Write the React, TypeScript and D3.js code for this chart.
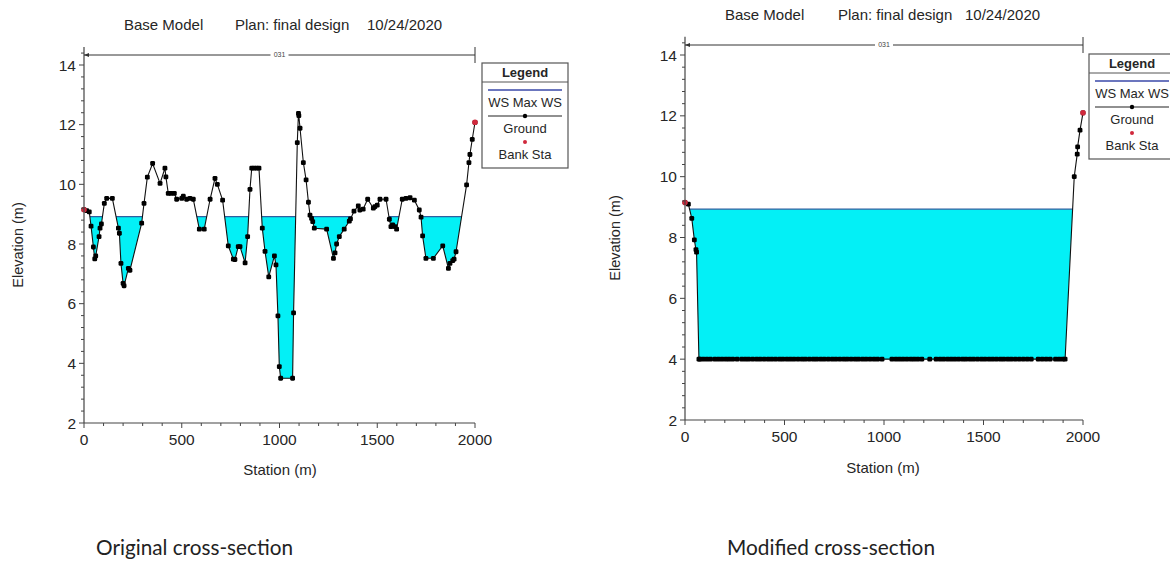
import React from "react";
import * as d3 from "d3";

// ---------- data ----------
const titleParts = ["Base Model", "Plan: final design", "10/24/2020"];
const reachLabel = "031";
const captions = ["Original cross-section", "Modified cross-section"];
const legendTitle = "Legend";
const legendItems = ["WS Max WS", "Ground", "Bank Sta"];
const yTicks = [2, 4, 6, 8, 10, 12, 14];
const xTicks = [0, 500, 1000, 1500, 2000];
const yLabel = "Elevation (m)";
const xLabel = "Station (m)";

const wsOriginal = 8.92;
const wsModified = 8.93;

const originalStation = [
  0, 14, 27, 36, 48, 55, 60, 77, 82, 89, 104, 116, 145, 176, 181, 189, 200, 205, 227, 235,
  295, 307, 324, 351, 389, 414, 419, 431, 445, 462, 474, 500, 508, 525, 542, 559, 590, 615,
  645, 670, 682, 709, 738, 764, 772, 789, 798, 824, 837, 849, 858, 870, 883, 895, 912, 926,
  945, 974, 982, 992, 999, 1006, 1067, 1072, 1091, 1097, 1099, 1105, 1122, 1136, 1148, 1156,
  1164, 1170, 1178, 1241, 1276, 1284, 1292, 1306, 1331, 1357, 1363, 1381, 1403, 1411, 1428,
  1451, 1480, 1488, 1500, 1514, 1545, 1562, 1570, 1579, 1591, 1599, 1628, 1647, 1668, 1690,
  1715, 1724, 1732, 1749, 1787, 1835, 1864, 1872, 1886, 1893, 1903, 1957, 1969, 1974, 1986, 2000,
];
const originalElev = [
  9.15, 9.12, 9.08, 8.6, 7.9, 7.5, 7.6, 8.25, 8.53, 8.67, 9.36, 9.53, 9.53, 8.53, 8.36, 7.35, 6.68, 6.6, 7.18, 7.12,
  8.7, 9.36, 10.24, 10.7, 10.03, 10.54, 10.25, 9.7, 9.7, 9.7, 9.5, 9.53, 9.6, 9.5, 9.53, 9.5, 8.5, 8.5,
  9.5, 10.2, 10.0, 9.47, 7.94, 7.49, 7.48, 7.91, 7.91, 7.37, 8.25, 9.83, 10.54, 10.54, 10.54, 10.54, 8.53, 7.75,
  6.9, 7.6, 7.3, 5.59, 3.89, 3.5, 3.5, 5.69, 11.4, 12.38, 12.3, 11.88, 10.73, 10.15, 9.4, 8.97,
  8.86, 8.75, 8.53, 8.5, 7.52, 7.7, 8.0, 8.25, 8.5, 8.77, 8.84, 9.1, 9.28, 9.14, 9.17,
  9.5, 9.2, 9.25, 9.3, 9.5, 9.5, 8.83, 8.58, 8.64, 8.58, 8.5, 9.5, 9.53, 9.55, 9.47,
  9.14, 8.9, 8.27, 7.52, 7.52, 7.94, 7.18, 7.35, 7.44, 7.49, 7.74, 9.98, 10.73, 11.0, 11.51, 12.08,
];

const modifiedStation = [
  0, 17, 34, 47, 55, 58, 70,
  75, 92, 110, 128, 150, 168, 186, 205, 222, 240, 262, 285, 303, 320, 340, 360, 378, 398,
  418, 436, 455, 475, 492, 512, 530, 548, 568, 588, 605, 625, 645, 662, 682, 700, 720, 740,
  758, 778, 798, 815, 835, 855, 872, 892, 910, 930, 950, 968, 990, 1040, 1060, 1078, 1096,
  1115, 1135, 1152, 1170, 1190, 1230, 1262, 1282, 1300, 1320, 1338, 1356, 1375, 1395, 1412,
  1432, 1450, 1470, 1490, 1508, 1528, 1546, 1565, 1585, 1602, 1622, 1640, 1660, 1680, 1700,
  1720, 1740, 1775, 1795, 1815, 1835, 1862, 1880, 1898, 1910,
  1956, 1971, 1973, 1985, 2000,
];
const modifiedElev = [
  9.15, 9.1, 8.63, 7.92, 7.6, 7.52, 4.0,
  4, 4, 4, 4, 4, 4, 4, 4, 4, 4, 4, 4, 4, 4, 4, 4, 4, 4,
  4, 4, 4, 4, 4, 4, 4, 4, 4, 4, 4, 4, 4, 4, 4, 4, 4, 4,
  4, 4, 4, 4, 4, 4, 4, 4, 4, 4, 4, 4, 4, 4, 4, 4, 4,
  4, 4, 4, 4, 4, 4, 4, 4, 4, 4, 4, 4, 4, 4, 4,
  4, 4, 4, 4, 4, 4, 4, 4, 4, 4, 4, 4, 4, 4, 4,
  4, 4, 4, 4, 4, 4, 4, 4, 4, 4.0,
  10.0, 10.74, 10.98, 11.53, 12.1,
];

// ---------- styles ----------
const FONT = "'Liberation Sans', Arial, sans-serif";
const TEXT = "#262626";
const AXIS = "#444";
const WATER = "#03F0F6";
const WSLINE = "#2f5f9f";
const BANK = "#d0283c";

type PanelCfg = {
  id: string;
  stations: number[];
  elevs: number[];
  ws: number;
  x0: number; x1: number; yBot: number; y14: number;
  titleY: number; titleXs: number[];
  legendX: number; legendY: number;
  bracketY: number;
  yLabelX: number; yLabelY: number;
  xLabelX: number; xLabelY: number;
  caption: string; captionX: number; captionY: number; captionW: number;
};

function Panel({ c }: { c: PanelCfg }) {
  const x = d3.scaleLinear().domain([0, 2000]).range([c.x0, c.x1]);
  const y = d3.scaleLinear().domain([2, 14]).range([c.yBot, c.y14]);
  const yTop = y(14.6);
  const pts: [number, number][] = c.stations.map((s, i) => [s, c.elevs[i]]);
  const groundLine = d3.line<[number, number]>().x(d => x(d[0])).y(d => y(d[1]))(pts) || "";
  const aboveGround = d3.area<[number, number]>().x(d => x(d[0])).y0(d => y(d[1])).y1(yTop)(pts) || "";
  const minorY = d3.range(0, 32).map(i => 2 + i * 0.4).filter(v => Math.abs(v - Math.round(v / 2) * 2) > 0.01);
  const minorX = d3.range(0, 21).map(i => i * 100).filter(v => v % 500 !== 0);
  const clipId = `clip-${c.id}`;
  const lx = c.legendX, ly = c.legendY, lw = 86, lc = lx + lw / 2;
  const n = pts.length;
  const mid = (x(0) + x(2000)) / 2;
  const ms = 4.8;
  return (
    <g>
      <defs>
        <clipPath id={clipId}><path d={aboveGround} /></clipPath>
      </defs>
      {titleParts.map((t, i) => (
        <text key={i} x={c.titleXs[i]} y={c.titleY} fontSize={15} fill={TEXT} fontFamily={FONT}>{t}</text>
      ))}
      <g clipPath={`url(#${clipId})`}>
        <rect x={x(0)} y={y(c.ws)} width={x(2000) - x(0)} height={c.yBot - y(c.ws)} fill={WATER} />
        <line x1={x(0)} x2={x(2000)} y1={y(c.ws)} y2={y(c.ws)} stroke={WSLINE} strokeWidth={1.2} />
      </g>
      <path d={groundLine} fill="none" stroke="#111" strokeWidth={1.1} />
      {pts.map((p, i) => (
        <rect key={i} x={x(p[0]) - ms / 2} y={y(p[1]) - ms / 2} width={ms} height={ms} rx={1.3} fill="#000" />
      ))}
      <circle cx={x(pts[0][0])} cy={y(pts[0][1])} r={2.8} fill={BANK} />
      <circle cx={x(pts[n - 1][0])} cy={y(pts[n - 1][1])} r={2.8} fill={BANK} />
      <line x1={c.x0} x2={c.x0} y1={yTop} y2={c.yBot} stroke={AXIS} strokeWidth={1.2} />
      <line x1={c.x0} x2={c.x1} y1={c.yBot} y2={c.yBot} stroke={AXIS} strokeWidth={1.2} />
      {yTicks.map(t => (
        <g key={t}>
          <line x1={c.x0 - 5} x2={c.x0} y1={y(t)} y2={y(t)} stroke={AXIS} />
          <text x={c.x0 - 8} y={y(t)} dy="0.36em" textAnchor="end" fontSize={15.5} fill={TEXT} fontFamily={FONT}>{t}</text>
        </g>
      ))}
      {minorY.map(t => (
        <line key={t} x1={c.x0 - 3} x2={c.x0} y1={y(t)} y2={y(t)} stroke={AXIS} />
      ))}
      {xTicks.map(t => (
        <g key={t}>
          <line x1={x(t)} x2={x(t)} y1={c.yBot} y2={c.yBot + 5} stroke={AXIS} />
          <text x={x(t)} y={c.yBot + 22} textAnchor="middle" fontSize={15.5} fill={TEXT} fontFamily={FONT}>{t}</text>
        </g>
      ))}
      {minorX.map(t => (
        <line key={t} x1={x(t)} x2={x(t)} y1={c.yBot} y2={c.yBot + 3} stroke={AXIS} />
      ))}
      <text transform={`translate(${c.yLabelX},${c.yLabelY}) rotate(-90)`} textAnchor="middle" fontSize={14.5} fill={TEXT} fontFamily={FONT}>{yLabel}</text>
      <text x={c.xLabelX} y={c.xLabelY} textAnchor="middle" fontSize={15} fill={TEXT} fontFamily={FONT}>{xLabel}</text>
      <line x1={x(0)} x2={x(2000)} y1={c.bracketY} y2={c.bracketY} stroke="#333" strokeWidth={1} />
      <path d={`M${x(0)},${c.bracketY} l5,-2 l0,4 z`} fill="#333" />
      <line x1={x(2000)} x2={x(2000)} y1={c.bracketY - 8} y2={c.bracketY + 8} stroke="#333" strokeWidth={1} />
      <rect x={mid - 9} y={c.bracketY - 4} width={18} height={8} fill="#fff" />
      <text x={mid} y={c.bracketY} dy="0.35em" textAnchor="middle" fontSize={7} fill="#444" fontFamily={FONT}>{reachLabel}</text>
      <rect x={lx} y={ly} width={lw} height={105} fill="#fff" stroke="#555" strokeWidth={1.2} />
      <line x1={lx} x2={lx + lw} y1={ly + 19} y2={ly + 19} stroke="#555" strokeWidth={1} />
      <text x={lc} y={ly + 14} textAnchor="middle" fontSize={13} fontWeight="bold" fill={TEXT} fontFamily={FONT}>{legendTitle}</text>
      <line x1={lx + 6} x2={lx + lw - 6} y1={ly + 27} y2={ly + 27} stroke="#3a48a8" strokeWidth={1.3} />
      <text x={lc} y={ly + 44} textAnchor="middle" fontSize={13} fill={TEXT} fontFamily={FONT}>{legendItems[0]}</text>
      <line x1={lx + 6} x2={lx + lw - 6} y1={ly + 53} y2={ly + 53} stroke="#222" strokeWidth={1.2} />
      <circle cx={lc} cy={ly + 53} r={2.2} fill="#000" />
      <text x={lc} y={ly + 70} textAnchor="middle" fontSize={13} fill={TEXT} fontFamily={FONT}>{legendItems[1]}</text>
      <circle cx={lc} cy={ly + 79} r={2} fill={BANK} />
      <text x={lc} y={ly + 96} textAnchor="middle" fontSize={13} fill={TEXT} fontFamily={FONT}>{legendItems[2]}</text>
      <text x={c.captionX} y={c.captionY} fontSize={20.5} textLength={c.captionW} lengthAdjust="spacingAndGlyphs" fill="#222" fontFamily="Lato, 'Open Sans', sans-serif">{c.caption}</text>
    </g>
  );
}

export default function App() {
  const left: PanelCfg = {
    id: "orig", stations: originalStation, elevs: originalElev, ws: wsOriginal,
    x0: 84, x1: 475, yBot: 423, y14: 65,
    titleY: 30, titleXs: [124, 235, 367],
    legendX: 482, legendY: 63, bracketY: 55,
    yLabelX: 23, yLabelY: 245, xLabelX: 280, xLabelY: 475,
    caption: captions[0], captionX: 96, captionY: 555, captionW: 197,
  };
  const right: PanelCfg = {
    id: "mod", stations: modifiedStation, elevs: modifiedElev, ws: wsModified,
    x0: 685, x1: 1083, yBot: 420, y14: 55,
    titleY: 20, titleXs: [725, 838, 965],
    legendX: 1089, legendY: 54, bracketY: 45,
    yLabelX: 620, yLabelY: 238, xLabelX: 883, xLabelY: 473,
    caption: captions[1], captionX: 727, captionY: 555, captionW: 208,
  };
  return (
    <svg width={1170} height={561} style={{ position: "absolute", left: 0, top: 0, background: "#fff" }}>
      <rect width={1170} height={561} fill="#fff" />
      <Panel c={left} />
      <Panel c={right} />
    </svg>
  );
}
